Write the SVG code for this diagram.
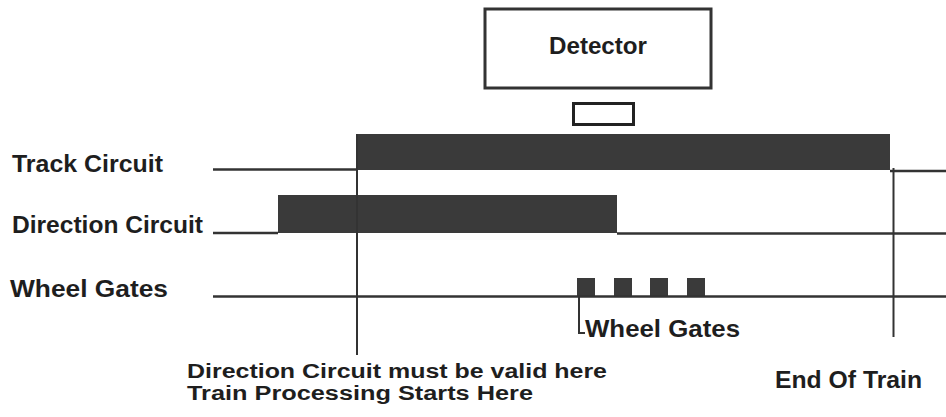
<svg xmlns="http://www.w3.org/2000/svg" width="946" height="417" viewBox="0 0 946 417">
<style>
.t{font-family:"Liberation Sans",Arial,sans-serif;font-weight:bold;font-size:24px;fill:#1e1e1e}
.s{font-size:20px}
.ln{stroke:#333;stroke-width:2.5;fill:none}
.vl{stroke:#333;stroke-width:2;fill:none}
.bar{fill:#3a3a3a}
</style>
<rect width="946" height="417" fill="#fff"/>
<g id="detector">
<rect x="485" y="9" width="226" height="79" fill="none" stroke="#333" stroke-width="3"/>
<text class="t" x="598" y="54" text-anchor="middle" textLength="98" lengthAdjust="spacingAndGlyphs">Detector</text>
</g>
<g id="sensor">
<rect x="573.5" y="103.5" width="60" height="21" fill="none" stroke="#222" stroke-width="3"/>
</g>
<g id="track-circuit">
<text class="t" x="12" y="172" textLength="151" lengthAdjust="spacingAndGlyphs">Track Circuit</text>
<rect class="bar" x="357" y="134" width="533" height="36"/>
</g>
<g id="direction-circuit">
<text class="t" x="12" y="233" textLength="191" lengthAdjust="spacingAndGlyphs">Direction Circuit</text>
<rect class="bar" x="278" y="195" width="339" height="38"/>
</g>
<g id="wheel-gates">
<text class="t" x="10" y="297" textLength="158" lengthAdjust="spacingAndGlyphs">Wheel Gates</text>
<rect class="bar" x="577" y="278" width="18" height="18"/>
<rect class="bar" x="614" y="278" width="18" height="18"/>
<rect class="bar" x="650" y="278" width="18" height="18"/>
<rect class="bar" x="687" y="278" width="18" height="18"/>
</g>
<g id="connectors">
<path class="ln" d="M213 169.5H357"/>
<path class="ln" d="M890 171H946"/>
<path class="ln" d="M213 233H278" stroke-width="3.5"/>
<path class="ln" d="M617 233.5H946"/>
<path class="ln" d="M213 296.5H946"/>
<path class="vl" d="M357 134V355"/>
<path class="vl" d="M893.5 168V337"/>
<path class="vl" d="M579 296V333H585"/>
</g>
<g id="labels">
<text class="t" x="585" y="337" textLength="155" lengthAdjust="spacingAndGlyphs">Wheel Gates</text>
<text class="t s" x="187" y="378" textLength="420" lengthAdjust="spacingAndGlyphs">Direction Circuit must be valid here</text>
<text class="t s" x="187" y="400" textLength="346" lengthAdjust="spacingAndGlyphs">Train Processing Starts Here</text>
<text class="t" x="775" y="388" textLength="147" lengthAdjust="spacingAndGlyphs">End Of Train</text>
</g>
</svg>
